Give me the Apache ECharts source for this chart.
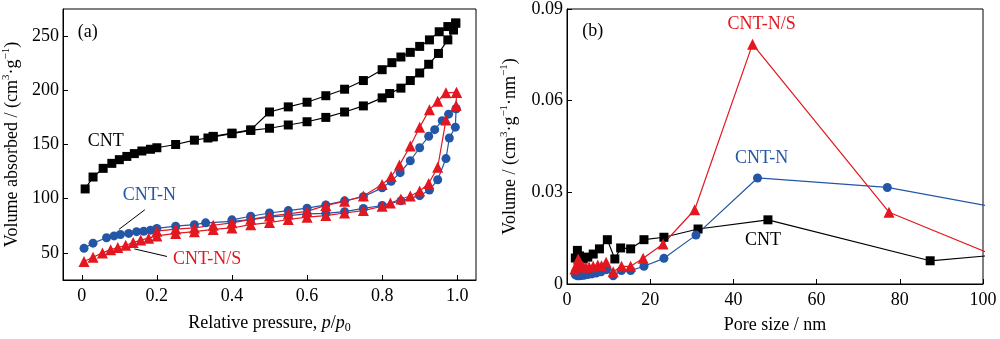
<!DOCTYPE html>
<html>
<head>
<meta charset="utf-8">
<script src="https://cdn.jsdelivr.net/npm/echarts@6/dist/echarts.min.js"></script>
<style>html,body{margin:0;padding:0;background:#fff}#c{width:1000px;height:339px}</style>
</head>
<body>
<div id="c"></div>
<script>
// ---------- Panel (a): N2 isotherms [p/p0, volume] ----------
const cntAds = [[0.009,109],[0.03,120],[0.057,128],[0.08,132.6],[0.10,136],[0.12,139],[0.14,141.6],[0.16,144],[0.183,145.6],[0.20,147],[0.25,150],[0.30,154],[0.336,156],[0.35,157],[0.40,160],[0.45,163],[0.50,165],[0.55,168],[0.60,171],[0.65,175],[0.70,180],[0.75,185.6],[0.80,193],[0.82,197],[0.85,202],[0.875,209],[0.90,216],[0.924,224],[0.95,234],[0.975,246.5],[0.99,255.6],[0.996,262]];
const cntDes = [[0.996,262],[0.975,258.8],[0.952,254],[0.926,246.5],[0.90,240.5],[0.875,235],[0.85,230.7],[0.826,225.5],[0.80,219],[0.75,209],[0.70,201],[0.65,195],[0.60,189],[0.55,184.7],[0.50,180],[0.45,163.5],[0.40,160.5],[0.35,157.5]];
const cntnAds = [[0.006,54.2],[0.03,59],[0.066,64],[0.086,65.7],[0.103,67],[0.125,68],[0.146,69.6],[0.165,70],[0.183,71],[0.20,72.6],[0.25,74.7],[0.30,76],[0.33,77.7],[0.40,79],[0.45,80.7],[0.50,83],[0.55,84.4],[0.60,86],[0.65,86.5],[0.70,88],[0.75,91],[0.80,93.7],[0.85,98],[0.90,102.8],[0.926,108],[0.948,117.5],[0.97,137],[0.979,156],[0.995,166],[0.997,183]];
const cntnDes = [[0.997,183],[0.977,178],[0.96,172],[0.94,163.7],[0.924,157.6],[0.90,147],[0.875,135],[0.848,124],[0.824,116],[0.80,110],[0.75,101.8],[0.70,98],[0.65,94.3],[0.60,91.3],[0.55,89],[0.50,86.8],[0.45,83.8],[0.40,80.5]];
const cntnsAds = [[0.006,42],[0.03,46],[0.055,50],[0.077,53],[0.096,55],[0.117,57],[0.137,59.6],[0.157,61.8],[0.178,63.6],[0.20,65.7],[0.25,68],[0.30,69.6],[0.35,71.7],[0.40,73],[0.45,76],[0.50,78],[0.55,80.8],[0.60,83],[0.65,84.4],[0.70,86.8],[0.75,89],[0.80,93],[0.822,96],[0.85,99.7],[0.875,102.5],[0.90,107],[0.924,114],[0.948,129],[0.97,172.7],[0.997,186],[0.998,198]];
const cntnsDes = [[0.998,198],[0.97,197.7],[0.948,190],[0.926,182],[0.90,166],[0.875,148.6],[0.846,131],[0.824,120.5],[0.80,113],[0.75,102.5],[0.70,97.6],[0.65,93.8],[0.60,88.3],[0.55,86],[0.50,84],[0.45,81],[0.40,77.7],[0.35,75.5],[0.30,73],[0.25,72],[0.20,70]];
const aXTicks = [0, 0.2, 0.4, 0.6, 0.8, 1.0];
const aYTicks = [50, 100, 150, 200, 250];

// ---------- Panel (b): pore size distribution [nm, volume] ----------
const cntPsd = [[2.0,0.0085],[2.5,0.0110],[3.0,0.0092],[3.9,0.0082],[5.0,0.0088],[6.3,0.0098],[7.8,0.0115],[9.7,0.0145],[11.5,0.0082],[12.9,0.0118],[15.3,0.0115],[18.5,0.0145],[23.3,0.0153],[31.5,0.0180],[48.3,0.0210],[87.3,0.0076],[110,0.0103]];
const cntnPsd = [[2.0,0.0030],[2.5,0.0027],[3.0,0.0027],[3.5,0.0028],[4.2,0.0029],[5.0,0.0031],[6.0,0.0033],[7.0,0.0036],[8.2,0.0040],[9.5,0.0047],[11.1,0.0027],[13.1,0.0044],[15.3,0.0044],[18.5,0.0058],[23.3,0.0084],[31.0,0.0160],[45.8,0.0347],[77.0,0.0316],[110,0.0234]];
const cntnsPsd = [[1.9,0.0049],[2.2,0.0060],[2.7,0.0082],[3.2,0.0066],[3.8,0.0058],[4.5,0.0055],[5.3,0.0056],[6.3,0.0058],[7.4,0.0062],[8.3,0.0060],[9.4,0.0071],[11.1,0.0040],[13.1,0.0058],[15.3,0.0058],[18.3,0.0084],[23.1,0.0131],[30.7,0.0243],[44.6,0.0785],[77.4,0.0235],[110,0.0053]];
const bXTicks = [0, 20, 40, 60, 80, 100];
const bYTicks = [0, 0.03, 0.06, 0.09];

const BLACK = '#000000', BLUE = '#2356a6', RED = '#e2171f';
const FONT = 'Liberation Serif';

const chart = echarts.init(document.getElementById('c'), null, {renderer: 'canvas'});

function axisCommon() {
  return {
    axisLine: {show: true, onZero: false, lineStyle: {color: '#000', width: 1}},
    axisTick: {show: true, inside: true, length: 5, lineStyle: {color: '#000', width: 1}},
    splitLine: {show: false},
    axisLabel: {color: '#000', fontFamily: FONT, fontSize: 18},
    nameTextStyle: {color: '#000', fontFamily: FONT, fontSize: 18}
  };
}

function ser(name, data, color, symbol, size, xi, extra) {
  return Object.assign({
    type: 'line', name, data, xAxisIndex: xi, yAxisIndex: xi,
    symbol, symbolSize: size, showSymbol: true,
    lineStyle: {color, width: 1.2}, itemStyle: {color, borderWidth: 0},
    animation: false, clip: true, z: 2
  }, extra || {});
}

const richName = {
  sup: {fontFamily: FONT, fontSize: 11, verticalAlign: 'top', lineHeight: 22, color: '#000'},
  sub: {fontFamily: FONT, fontSize: 12, verticalAlign: 'bottom', lineHeight: 22, color: '#000'},
  n: {fontFamily: FONT, fontSize: 18, lineHeight: 22, color: '#000', verticalAlign: 'middle'},
  i: {fontFamily: FONT, fontSize: 18, fontStyle: 'italic', lineHeight: 22, color: '#000', verticalAlign: 'middle'},
  isub: {fontFamily: FONT, fontSize: 12, verticalAlign: 'bottom', lineHeight: 20, color: '#000'}
};

const arrowLine = (from, to) => [{coord: from, symbol: 'none'}, {coord: to, symbol: 'arrow'}];

const option = {
  backgroundColor: '#fff',
  animation: false,
  grid: [
    {left: 62, right: 524, top: 9, bottom: 54, show: true, borderColor: '#000', borderWidth: 1},
    {left: 567, right: 17, top: 9, bottom: 54, show: true, borderColor: '#000', borderWidth: 1}
  ],
  xAxis: [
    Object.assign(axisCommon(), {
      type: 'value', gridIndex: 0, min: -0.05, max: 1.05,
      name: '{n|Relative pressure, }{i|p}{n|/}{i|p}{isub|0}', nameLocation: 'middle', nameGap: 32,
      nameTextStyle: {rich: richName},
      axisTick: {show: true, inside: true, length: 5, customValues: aXTicks, lineStyle: {color: '#000'}},
      axisLabel: {color: '#000', fontFamily: FONT, fontSize: 18, margin: 7, customValues: aXTicks,
        formatter: v => (v === 0 ? '0' : v.toFixed(1))}
    }),
    Object.assign(axisCommon(), {
      type: 'value', gridIndex: 1, min: 0, max: 100, interval: 20,
      name: 'Pore size / nm', nameLocation: 'middle', nameGap: 32,
      axisLabel: {color: '#000', fontFamily: FONT, fontSize: 18, margin: 7}
    })
  ],
  yAxis: [
    Object.assign(axisCommon(), {
      type: 'value', gridIndex: 0, min: 25, max: 275,
      name: '{n|Volume absorbed / (cm}{sup|3}{n|·g}{sup|−1}{n|)}', nameLocation: 'middle', nameGap: 40,
      nameTextStyle: {rich: richName},
      axisTick: {show: true, inside: true, length: 5, customValues: aYTicks, lineStyle: {color: '#000'}},
      axisLabel: {color: '#000', fontFamily: FONT, fontSize: 18, margin: 4, customValues: aYTicks}
    }),
    Object.assign(axisCommon(), {
      type: 'value', gridIndex: 1, min: 0, max: 0.09,
      name: '{n|Volume / (cm}{sup|3}{n|·g}{sup|−1}{n|·nm}{sup|−1}{n|)}', nameLocation: 'middle', nameGap: 46,
      nameTextStyle: {rich: richName},
      axisTick: {show: true, inside: true, length: 5, customValues: bYTicks, lineStyle: {color: '#000'}},
      axisLabel: {color: '#000', fontFamily: FONT, fontSize: 18, margin: 4, customValues: bYTicks,
        formatter: v => (v === 0 ? '0' : v.toFixed(2))}
    })
  ],
  series: [
    ser('CNT ads', cntAds, BLACK, 'rect', 9, 0, {
      markLine: {silent: true, animation: false, symbolSize: [0, 9], label: {show: false},
        lineStyle: {color: '#000', width: 1, type: 'solid'},
        data: [arrowLine([0.168, 89.8], [0.099, 71.7]), arrowLine([0.227, 46.7], [0.14, 53.7])]}
    }),
    ser('CNT des', cntDes, BLACK, 'rect', 9, 0),
    ser('CNT-N ads', cntnAds, BLUE, 'circle', 9, 0),
    ser('CNT-N des', cntnDes, BLUE, 'circle', 9, 0),
    ser('CNT-N/S ads', cntnsAds, RED, 'triangle', 11, 0),
    ser('CNT-N/S des', cntnsDes, RED, 'triangle', 11, 0),
    ser('CNT psd', cntPsd, BLACK, 'rect', 9, 1),
    ser('CNT-N psd', cntnPsd, BLUE, 'circle', 9, 1),
    ser('CNT-N/S psd', cntnsPsd, RED, 'triangle', 11, 1)
  ]
};
chart.setOption(option);

// Annotation texts, positioned in data coordinates
const notes = [
  {g: 0, at: [0.016, 253.8], text: '(a)', color: BLACK},
  {g: 0, at: [0.064, 153.4], text: 'CNT', color: BLACK},
  {g: 0, at: [0.18, 102.8], text: 'CNT-N', color: BLUE},
  {g: 0, at: [0.334, 44], text: 'CNT-N/S', color: RED},
  {g: 1, at: [6.2, 0.0828], text: '(b)', color: BLACK},
  {g: 1, at: [46.8, 0.0851], text: 'CNT-N/S', color: RED},
  {g: 1, at: [46.8, 0.0412], text: 'CNT-N', color: BLUE},
  {g: 1, at: [47.1, 0.0144], text: 'CNT', color: BLACK}
];
chart.setOption({
  graphic: notes.map(n => {
    const p = chart.convertToPixel({gridIndex: n.g}, n.at);
    return {type: 'text', x: p[0], y: p[1], z: 10,
      style: {text: n.text, fill: n.color, font: '18px "Liberation Serif"', align: 'center', verticalAlign: 'middle'}};
  })
});
</script>
</body>
</html>
